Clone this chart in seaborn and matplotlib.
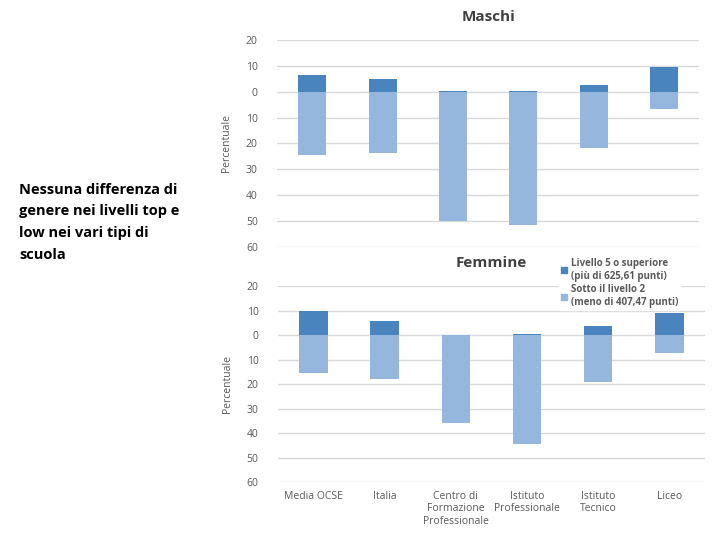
import seaborn as sns
import numpy as np
import pandas as pd
import matplotlib
matplotlib.use('Agg')
from matplotlib import pyplot as plt
from matplotlib.patches import Patch

sns.set_theme(style="white")
plt.rcParams['font.family'] = ['Open Sans', 'DejaVu Sans']

# data
scuole = ["Media OCSE", "Italia", "Centro di\nFormazione\nProfessionale",
          "Istituto\nProfessionale", "Istituto\nTecnico", "Liceo"]
maschi_top = [6.3, 4.8, 0.3, 0.3, 2.7, 9.7]
maschi_low = [24.4, 23.9, 50.2, 51.4, 21.8, 6.8]
femmine_top = [9.8, 6.0, 0.0, 0.5, 3.7, 9.1]
femmine_low = [15.5, 17.7, 35.9, 44.3, 19.3, 7.1]
yticks = [20, 10, 0, -10, -20, -30, -40, -50, -60]

col_top = "#4a84bf"
col_low = "#95b7de"
grey = "#595959"

fig = plt.figure(figsize=(7.2, 5.4), dpi=100)
ax1 = fig.add_axes([0.385, 0.543, 0.586, 0.383])
ax2 = fig.add_axes([0.386, 0.107, 0.593, 0.363])


def pannello(ax, top, low, titolo, etichette):
    df = pd.DataFrame({"scuola": scuole, "top": top, "low": [-v for v in low]})
    sns.barplot(data=df, x="scuola", y="low", color=col_low, width=0.4,
                saturation=1, linewidth=0, ax=ax, zorder=3)
    sns.barplot(data=df, x="scuola", y="top", color=col_top, width=0.4,
                saturation=1, linewidth=0, ax=ax, zorder=3)
    ax.set_ylim(-60, 20)
    ax.set_xlim(-0.5, 5.5)
    ax.set_yticks(yticks)
    ax.set_yticklabels([str(abs(t)) for t in yticks], fontsize=7.5, color=grey)
    ax.yaxis.grid(True, color="#d9d9d9", lw=1, zorder=0)
    ax.set_axisbelow(True)
    ax.tick_params(length=0, pad=14)
    ax.set_ylabel("Percentuale", fontsize=7.5, color=grey, labelpad=10)
    ax.set_xlabel("")
    ax.set_title(titolo, fontsize=11, fontweight="bold", color="#404040", pad=14)
    if etichette:
        ax.set_xticks(range(len(scuole)))
        ax.set_xticklabels(scuole, fontsize=7.5, color=grey, va="top")
        ax.tick_params(axis="x", pad=6)
    else:
        ax.set_xticks([])
    sns.despine(ax=ax, left=True, bottom=True)


pannello(ax1, maschi_top, maschi_low, "Maschi", False)
pannello(ax2, femmine_top, femmine_low, "Femmine", True)

handles = [Patch(color=col_top), Patch(color=col_low)]
labels = ["Livello 5 o superiore\n(più di 625,61 punti)",
          "Sotto il livello 2\n(meno di 407,47 punti)"]
leg = fig.legend(handles, labels, loc="upper left", bbox_to_anchor=(0.77, 0.535),
                 fontsize=7, frameon=True, framealpha=1, edgecolor="white",
                 handlelength=0.6, handleheight=0.6, handletextpad=0.4,
                 labelspacing=0.3, borderpad=0.2)
for t in leg.get_texts():
    t.set_color(grey)
    t.set_fontweight("bold")

fig.text(0.027, 0.662, "Nessuna differenza di\ngenere nei livelli top e\nlow nei vari tipi di\nscuola",
         fontsize=10.5, fontweight="bold", color="black", va="top", ha="left",
         linespacing=1.7)

plt.savefig("out.png", dpi=100)
